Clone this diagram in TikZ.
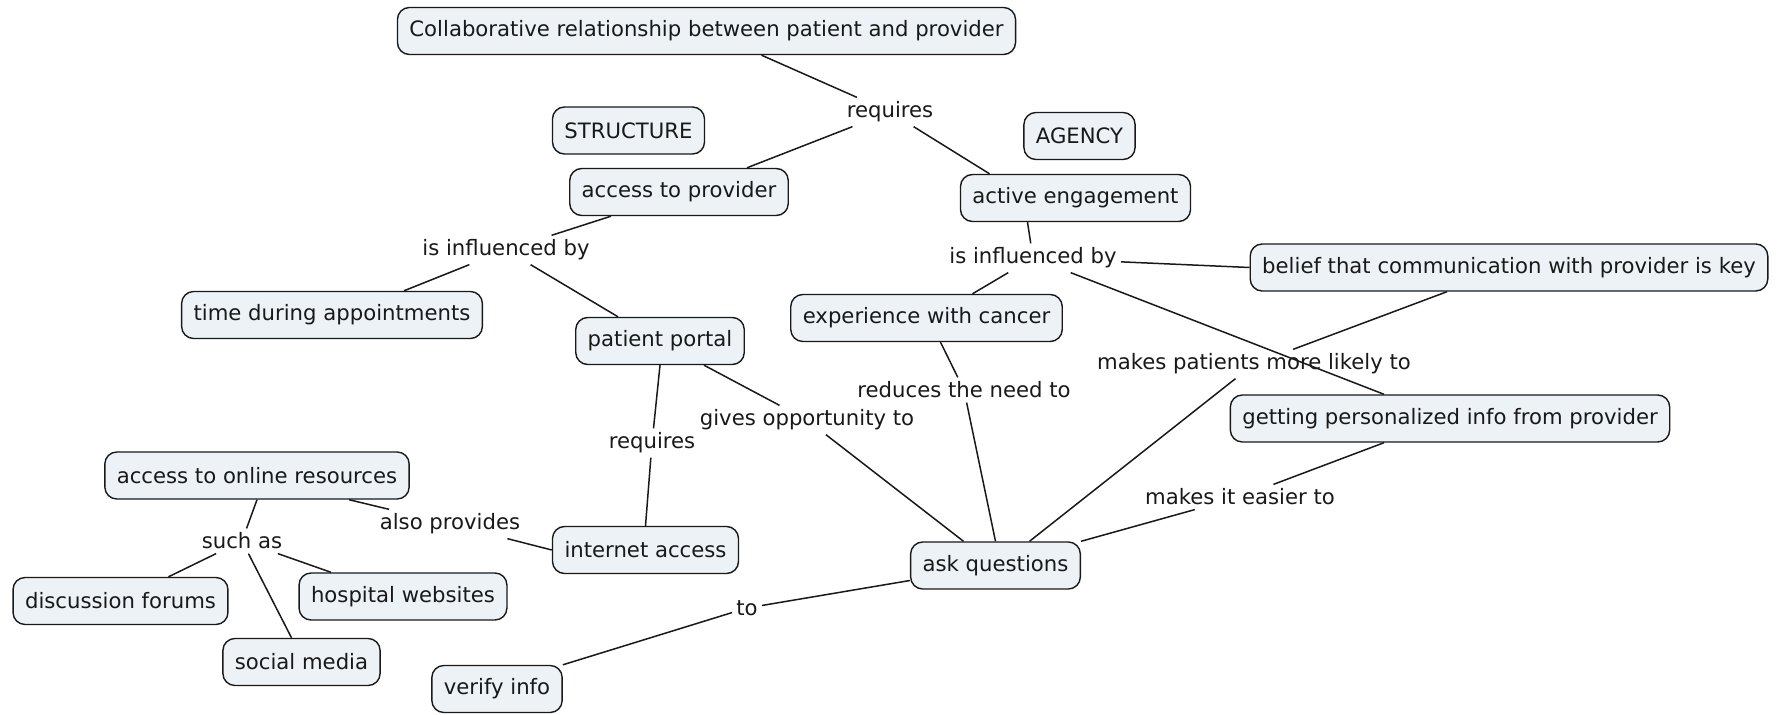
\documentclass[tikz,border=0pt]{standalone}
\usepackage{fontspec}
\setmainfont{DejaVu Sans}
\usetikzlibrary{calc}
\definecolor{boxfill}{RGB}{236,242,245}
\definecolor{ink}{RGB}{25,25,25}
\begin{document}
\begin{tikzpicture}[x=0.5pt,y=-0.5pt,
  concept/.style={draw=ink, fill=boxfill, rounded corners=6pt, line width=0.7pt,
    inner xsep=6pt, minimum height=23.5pt, text=ink, font=\fontsize{10.6}{12}\selectfont},
  linkph/.style={inner sep=2pt, text=ink, font=\fontsize{10.6}{12}\selectfont},
  conn/.style={draw=ink, line width=0.75pt}]
\useasboundingbox (0,0) rectangle (1782,715);
\fill[white] (0,0) rectangle (1782,715);

% concepts
\node[concept] (collab) at (706.5,31) {Collaborative relationship between patient and provider};
\node[concept] (structure) at (628.5,130.5) {STRUCTURE};
\node[concept] (agency) at (1079.5,136) {AGENCY};
\node[concept] (accprov) at (679,192) {access to provider};
\node[concept] (active) at (1075.5,198) {active engagement};
\node[concept] (time) at (332,315) {time during appointments};
\node[concept] (portal) at (660,341) {patient portal};
\node[concept] (exper) at (926.5,318) {experience with cancer};
\node[concept] (belief) at (1509,267.5) {belief that communication with provider is key};
\node[concept] (getting) at (1450,418.5) {getting personalized info from provider};
\node[concept] (online) at (257,475.5) {access to online resources};
\node[concept] (internet) at (645.5,550) {internet access};
\node[concept] (ask) at (995.5,565.5) {ask questions};
\node[concept] (forums) at (120.5,601) {discussion forums};
\node[concept] (hospital) at (403,596.5) {hospital websites};
\node[concept] (social) at (301.5,662) {social media};
\node[concept] (verify) at (497,689) {verify info};

% linking phrases
\node[linkph] (req1) at (890,112) {requires};
\node[linkph] (inf1) at (506,250) {is influenced by};
\node[linkph] (inf2) at (1033,258) {is influenced by};
\node[linkph] (likely) at (1254,364) {makes patients more likely to};
\node[linkph] (reduces) at (964,390) {reduces the need to};
\node[linkph] (gives) at (807,420) {gives opportunity to};
\node[linkph] (req2) at (652,443) {requires};
\node[linkph] (easier) at (1240,497) {makes it easier to};
\node[linkph] (alsoprov) at (450,524) {also provides};
\node[linkph] (suchas) at (242,541) {such as};
\node[linkph] (to) at (747,608) {to};

% connectors
\draw[conn] ([xshift=27.5pt]collab.south) -- (req1);
\draw[conn] (req1) -- ([xshift=34pt]accprov.north);
\draw[conn] (req1) -- ([xshift=-43pt]active.north);
\draw[conn] ([xshift=-34pt]accprov.south) -- (inf1);
\draw[conn] (inf1) -- ([xshift=36pt]time.north);
\draw[conn] (inf1) -- ([xshift=-21pt]portal.north);
\draw[conn] (portal.south) -- (req2);
\draw[conn] (req2) -- (internet.north);
\draw[conn] ([xshift=22pt]portal.south) -- (gives);
\draw[conn] (gives) -- ([xshift=-16pt]ask.north);
\draw[conn] ([xshift=-24pt]active.south) -- (inf2);
\draw[conn] (inf2) -- ([xshift=23pt]exper.north);
\draw[conn] (inf2) -- (belief.west);
\draw[conn] (inf2) -- ([xshift=-33pt]getting.north);
\draw[conn] ([xshift=-31pt]belief.south) -- (likely);
\draw[conn] (likely) -- ([xshift=17pt]ask.north);
\draw[conn] ([xshift=7pt]exper.south) -- (reduces);
\draw[conn] (reduces) -- (ask.north);
\draw[conn] ([xshift=-33pt]getting.south) -- (easier);
\draw[conn] (easier) -- (ask.north east);
\draw[conn] ([xshift=46pt]online.south) -- (alsoprov);
\draw[conn] (alsoprov) -- (internet.west);
\draw[conn] (online.south) -- (suchas);
\draw[conn] (suchas) -- ([xshift=24pt]forums.north);
\draw[conn] (suchas) -- ([xshift=-5pt]social.north);
\draw[conn] (suchas) -- ([xshift=-36pt]hospital.north);
\draw[conn] ([yshift=-7.5pt]ask.west) -- (to);
\draw[conn] (to) -- (verify.north east);
\end{tikzpicture}
\end{document}
